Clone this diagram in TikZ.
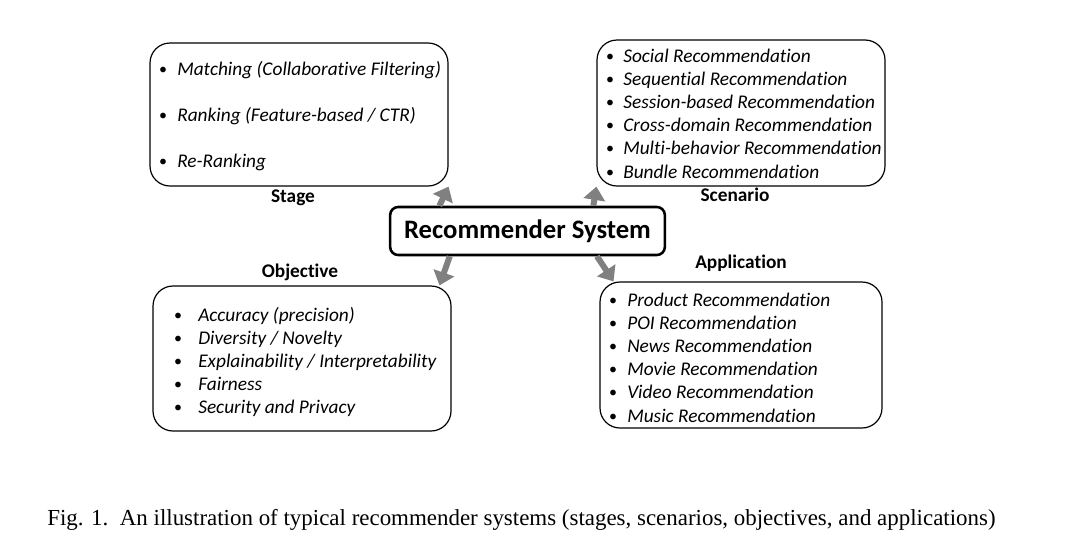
\documentclass[tikz,border=0pt]{standalone}
\usepackage{fontspec}
\setmainfont{Carlito}[Ligatures=NoCommon]
\newfontfamily\capfont{Liberation Serif}
\usetikzlibrary{arrows.meta, positioning}

\begin{document}
\begin{tikzpicture}[x=0.75pt, y=-0.75pt,
    panel/.style={draw, rounded corners=15pt, line width=0.9pt, inner sep=0pt},
    core/.style={draw, rounded corners=6pt, line width=1.9pt, inner sep=0pt,
        minimum width=206pt, minimum height=36pt,
        font=\fontsize{20}{22}\selectfont\bfseries},
    title/.style={inner sep=0pt, font=\fontsize{14.5}{16}\selectfont\bfseries},
    item/.style={anchor=west, inner sep=0pt, text height=10pt, text depth=3pt,
        font=\fontsize{14.5}{16}\selectfont\itshape},
    dot/.style={inner sep=0pt, font=\fontsize{12}{14}\selectfont},
    conn/.style={draw=gray, line width=4.5pt, -{Triangle[width=16pt,length=10pt]}}]
					\useasboundingbox (0,0) rectangle (1066,554);

					% the four groups
					\node[panel, minimum width=223.5pt, minimum height=107.25pt] (stage) at (299,114.5) {};
					\node[panel, minimum width=216pt, minimum height=109.5pt] (scenario) at (741,113) {};
					\node[panel, minimum width=223.5pt, minimum height=108.75pt] (objective) at (302,358.5) {};
					\node[panel, minimum width=211.5pt, minimum height=109.5pt] (application) at (741,355) {};

					\node[title] (stagetitle) at (293,198) {Stage};
					\node[title] (scenariotitle) at (735,195) {Scenario};
					\node[title] (objectivetitle) at (300,272) {Objective};
					\node[title] (applicationtitle) at (741,263) {Application};

					\foreach \txt [count=\i] in {Matching (Collaborative Filtering),
						Ranking (Feature-based / CTR), Re-Ranking} {
						\node[dot] (stagedot\i) at (163, 24.5+46*\i) {\textbullet};
						\node[item] (stageitem\i) at (177, 24.5+46*\i) {\txt};
					}

					\foreach \txt [count=\i] in {Social Recommendation, Sequential Recommendation,
						Session-based Recommendation, Cross-domain Recommendation,
						Multi-behavior Recommendation, Bundle Recommendation} {
						\node[dot] (scenariodot\i) at (610, 34.3+23.2*\i) {\textbullet};
						\node[item] (scenarioitem\i) at (623, 34.3+23.2*\i) {\txt};
					}

					\foreach \txt [count=\i] in {Accuracy (precision), Diversity / Novelty,
						Explainability / Interpretability, Fairness, Security and Privacy} {
						\node[dot] (objectivedot\i) at (178, 293.3+23.2*\i) {\textbullet};
						\node[item] (objectiveitem\i) at (198, 293.3+23.2*\i) {\txt};
					}

					\foreach \txt [count=\i] in {Product Recommendation, POI Recommendation,
						News Recommendation, Movie Recommendation, Video Recommendation,
						Music Recommendation} {
						\node[dot] (applicationdot\i) at (613, 278.3+23.2*\i) {\textbullet};
						\node[item] (applicationitem\i) at (627, 278.3+23.2*\i) {\txt};
					}

					% centre and arrows
					\node[core] (rs) at (527.5,231) {Recommender System};

					\draw[conn] (rs.164) -- (stage.south east);
					\draw[conn] (rs.21) -- (scenario.south west);
					\draw[conn] (rs.198) -- (objective.28);
					\draw[conn] (rs.340) -- (application.150);

					\node[anchor=west, inner sep=0pt, font=\capfont\fontsize{17.2}{19}\selectfont] (caption) at (47,520)
						{Fig. 1.\ \ An illustration of typical recommender systems (stages, scenarios, objectives, and applications)};
				\end{tikzpicture}
\end{document}
